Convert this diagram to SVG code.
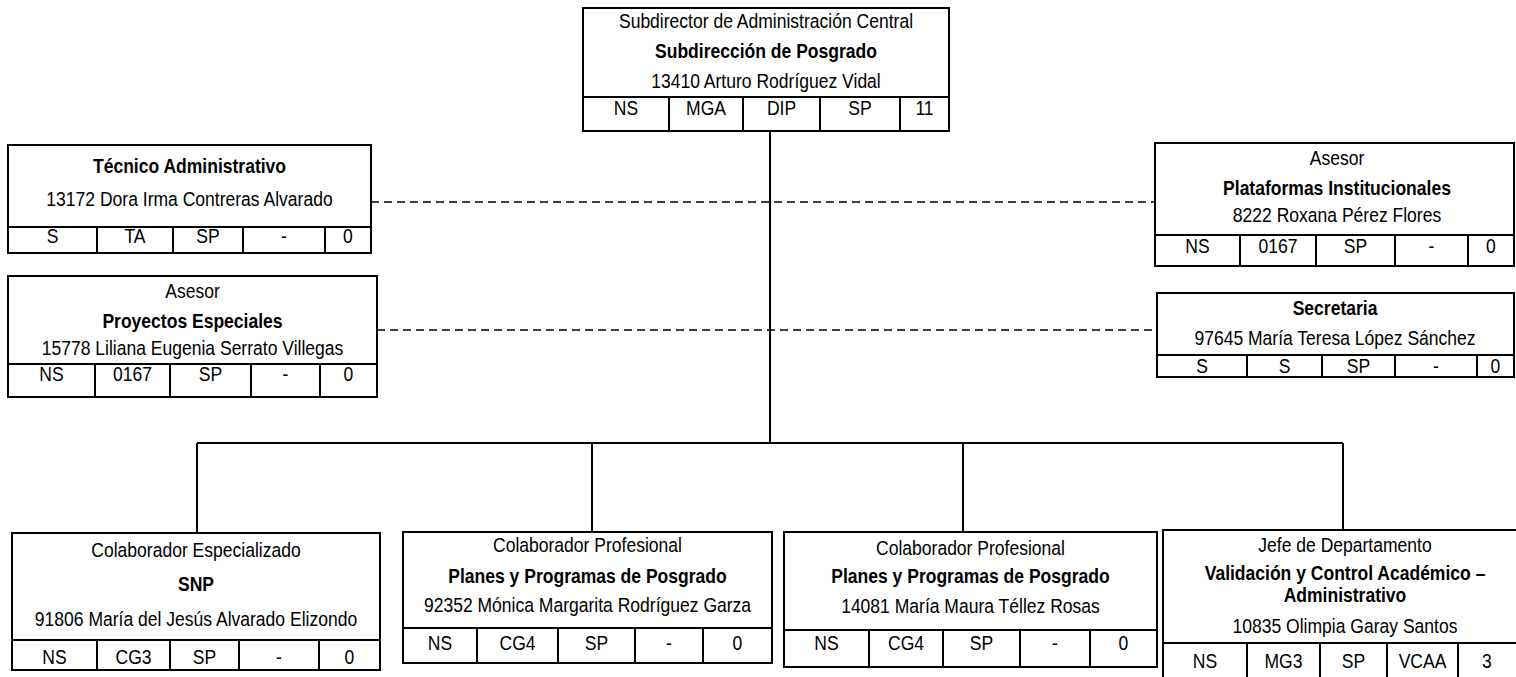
<svg xmlns="http://www.w3.org/2000/svg" width="1516" height="677" viewBox="0 0 1516 677">
<style>
.box{fill:#fff;stroke:#000;stroke-width:2}
.ln{stroke:#000;stroke-width:2;fill:none}
.conn{stroke:#000;stroke-width:2;fill:none}
.dash{stroke:#000;stroke-width:1.6;fill:none;stroke-dasharray:8 5}
text{font-family:"Liberation Sans Narrow","Arial Narrow","Liberation Sans",sans-serif;font-size:20.5px;text-anchor:middle;fill:#000;transform-box:fill-box;transform-origin:center;transform:scaleX(0.855)}
.b{font-weight:bold}
</style>
<rect width="1516" height="677" fill="#fff"/>
<g id="connectors">
<path class="conn" d="M770 131V443M197 443H1343M197 443V533M592 443V532M963 443V532M1343 443V530"/>
<path class="dash" d="M371 202H1155M377 330H1157"/>
</g>
<g id="n-top">
<rect class="box" x="583" y="8" width="366" height="123"/>
<path class="ln" d="M583 97H949M669 97V131M743 97V131M820 97V131M900 97V131"/>
<text x="766" y="28">Subdirector de Administración Central</text>
<text class="b" x="766" y="58">Subdirección de Posgrado</text>
<text x="766" y="88">13410 Arturo Rodríguez Vidal</text>
<text x="626" y="115">NS</text><text x="706" y="115">MGA</text><text x="781.5" y="115">DIP</text><text x="860" y="115">SP</text><text x="924.5" y="115">11</text>
</g>
<g id="n-tecnico">
<rect class="box" x="8" y="145" width="363" height="108"/>
<path class="ln" d="M8 227H371M97 227V253M173 227V253M243 227V253M325 227V253"/>
<text class="b" x="189.5" y="173">Técnico Administrativo</text>
<text x="189.5" y="206">13172 Dora Irma Contreras Alvarado</text>
<text x="52.5" y="243">S</text><text x="135" y="243">TA</text><text x="208" y="243">SP</text><text x="284" y="243">-</text><text x="348" y="243">0</text>
</g>
<g id="n-proyectos">
<rect class="box" x="8" y="276" width="369" height="121"/>
<path class="ln" d="M8 364H377M95 364V397M170 364V397M251 364V397M320 364V397"/>
<text x="192.5" y="298">Asesor</text>
<text class="b" x="192.5" y="328">Proyectos Especiales</text>
<text x="192.5" y="355">15778 Liliana Eugenia Serrato Villegas</text>
<text x="51.5" y="381">NS</text><text x="132.5" y="381">0167</text><text x="210.5" y="381">SP</text><text x="285.5" y="381">-</text><text x="348.5" y="381">0</text>
</g>
<g id="n-plataformas">
<rect class="box" x="1155" y="143" width="359" height="123"/>
<path class="ln" d="M1155 235H1514M1240 235V266M1316 235V266M1395 235V266M1468 235V266"/>
<text x="1337" y="165">Asesor</text>
<text class="b" x="1337" y="195">Plataformas Institucionales</text>
<text x="1337" y="222">8222 Roxana Pérez Flores</text>
<text x="1197.5" y="253">NS</text><text x="1278" y="253">0167</text><text x="1355.5" y="253">SP</text><text x="1431.5" y="253">-</text><text x="1491" y="253">0</text>
</g>
<g id="n-secretaria">
<rect class="box" x="1157" y="293" width="357" height="84"/>
<path class="ln" d="M1157 355H1514M1247 355V377M1322 355V377M1395 355V377M1477 355V377"/>
<text class="b" x="1335" y="315">Secretaria</text>
<text x="1335" y="345">97645 María Teresa López Sánchez</text>
<text x="1202" y="373">S</text><text x="1284.5" y="373">S</text><text x="1358.5" y="373">SP</text><text x="1436" y="373">-</text><text x="1495.5" y="373">0</text>
</g>
<g id="n-snp">
<rect class="box" x="12" y="533" width="368" height="137"/>
<path class="ln" d="M12 640H380M97 640V670M170 640V670M239 640V670M319 640V670"/>
<text x="196" y="557">Colaborador Especializado</text>
<text class="b" x="196" y="591">SNP</text>
<text x="196" y="626">91806 María del Jesús Alvarado Elizondo</text>
<text x="54.5" y="664">NS</text><text x="133.5" y="664">CG3</text><text x="204.5" y="664">SP</text><text x="279" y="664">-</text><text x="349.5" y="664">0</text>
</g>
<g id="n-planes1">
<rect class="box" x="403" y="532" width="369" height="131"/>
<path class="ln" d="M403 628H772M477 628V663M558 628V663M635 628V663M703 628V663"/>
<text x="587.5" y="552">Colaborador Profesional</text>
<text class="b" x="587.5" y="583">Planes y Programas de Posgrado</text>
<text x="587.5" y="612">92352 Mónica Margarita Rodríguez Garza</text>
<text x="440" y="650">NS</text><text x="517.5" y="650">CG4</text><text x="596.5" y="650">SP</text><text x="669" y="650">-</text><text x="737.5" y="650">0</text>
</g>
<g id="n-planes2">
<rect class="box" x="784" y="532" width="373" height="135"/>
<path class="ln" d="M784 630H1157M869 630V667M943 630V667M1020 630V667M1090 630V667"/>
<text x="970.5" y="555">Colaborador Profesional</text>
<text class="b" x="970.5" y="583">Planes y Programas de Posgrado</text>
<text x="970.5" y="613">14081 María Maura Téllez Rosas</text>
<text x="826.5" y="650">NS</text><text x="906" y="650">CG4</text><text x="981.5" y="650">SP</text><text x="1055" y="650">-</text><text x="1123.5" y="650">0</text>
</g>
<g id="n-validacion">
<rect class="box" x="1163" y="530" width="360" height="160"/>
<path class="ln" d="M1163 643H1523M1247 643V690M1320 643V690M1387 643V690M1458 643V690"/>
<text x="1345" y="552">Jefe de Departamento</text>
<text class="b" x="1345" y="580">Validación y Control Académico –</text>
<text class="b" x="1345" y="602">Administrativo</text>
<text x="1345" y="633">10835 Olimpia Garay Santos</text>
<text x="1205" y="668">NS</text><text x="1283.5" y="668">MG3</text><text x="1353.5" y="668">SP</text><text x="1422.5" y="668">VCAA</text><text x="1487" y="668">3</text>
</g>
</svg>
